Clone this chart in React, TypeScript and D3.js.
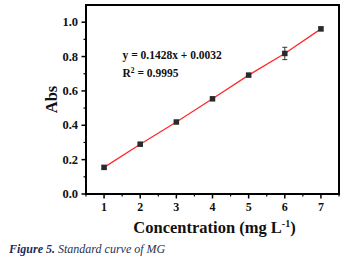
import React from "react";
import * as d3 from "d3";

const concentrations = [1, 2, 3, 4, 5, 6, 7];
const absorbance = [0.155, 0.29, 0.419, 0.554, 0.692, 0.818, 0.961];
const errors = [0.008, 0.006, 0.006, 0.008, 0.005, 0.036, 0.01];
const xTicks = [1, 2, 3, 4, 5, 6, 7];
const yTicks = [0, 0.2, 0.4, 0.6, 0.8, 1.0];
const xMinor = [0.5, 1.5, 2.5, 3.5, 4.5, 5.5, 6.5, 7.5];
const yMinor = [0.1, 0.3, 0.5, 0.7, 0.9];
const equationText = "y = 0.1428x + 0.0032";
const r2Value = "0.9995";

const W = 349;
const H = 261;
const left = 86;
const right = 339;
const top = 5;
const bottom = 194;
const font = "'Liberation Serif', 'Times New Roman', serif";

export default function App() {
  const x = d3.scaleLinear().domain([0.5, 7.5]).range([left, right]);
  const y = d3.scaleLinear().domain([0, 1.1]).range([bottom, top]);
  const line = d3
    .line<number>()
    .x((_, i) => x(concentrations[i]))
    .y((d) => y(d));
  const ms = 5.5;
  return (
    <svg
      width={W}
      height={H}
      style={{ position: "fixed", left: 0, top: 0, background: "#fff" }}
      fontFamily={font}
    >
      <rect x={0} y={0} width={W} height={H} fill="#fff" />
      {/* ticks */}
      {xTicks.map((t) => (
        <g key={"xt" + t}>
          <line x1={x(t)} x2={x(t)} y1={bottom} y2={bottom + 4.5} stroke="#000" strokeWidth={1.5} />
          <text x={x(t)} y={211} textAnchor="middle" fontSize={12} fontWeight="bold" fill="#111">
            {t}
          </text>
        </g>
      ))}
      {xMinor.map((t) => (
        <line key={"xm" + t} x1={x(t)} x2={x(t)} y1={bottom} y2={bottom + 2.5} stroke="#000" strokeWidth={1.2} />
      ))}
      {yTicks.map((t) => (
        <g key={"yt" + t}>
          <line x1={left} x2={left - 4.5} y1={y(t)} y2={y(t)} stroke="#000" strokeWidth={1.5} />
          <text x={78} y={y(t) + 4.2} textAnchor="end" fontSize={12.5} fontWeight="bold" fill="#111">
            {t.toFixed(1)}
          </text>
        </g>
      ))}
      {yMinor.map((t) => (
        <line key={"ym" + t} x1={left} x2={left - 2.5} y1={y(t)} y2={y(t)} stroke="#000" strokeWidth={1.2} />
      ))}
      {/* line */}
      <path d={line(absorbance) || ""} fill="none" stroke="#ff2a2a" strokeWidth={1.3} />
      {/* error bars */}
      {absorbance.map((v, i) => {
        const cx = x(concentrations[i]);
        const y1 = y(v - errors[i]);
        const y2 = y(v + errors[i]);
        return (
          <g key={"e" + i} stroke="#333" strokeWidth={1}>
            <line x1={cx} x2={cx} y1={y1} y2={y2} />
            <line x1={cx - 2.5} x2={cx + 2.5} y1={y1} y2={y1} />
            <line x1={cx - 2.5} x2={cx + 2.5} y1={y2} y2={y2} />
          </g>
        );
      })}
      {absorbance.map((v, i) => (
        <rect
          key={"m" + i}
          x={x(concentrations[i]) - ms / 2}
          y={y(v) - ms / 2}
          width={ms}
          height={ms}
          fill="#2a2a2a"
        />
      ))}
      {/* frame */}
      <rect x={left} y={top} width={right - left} height={bottom - top} fill="none" stroke="#000" strokeWidth={2} />
      {/* equation */}
      <text x={122.5} y={59} fontSize={11.5} fontWeight="bold" fill="#111">
        {equationText}
      </text>
      <text x={122.5} y={77} fontSize={11.5} fontWeight="bold" fill="#111">
        R<tspan dy={-4.5} fontSize={7.5}>2</tspan>
        <tspan dy={4.5}>{" = " + r2Value}</tspan>
      </text>
      {/* axis labels */}
      <text
        transform={`translate(57,${(top + bottom) / 2}) rotate(-90)`}
        textAnchor="middle"
        fontSize={16.5}
        fontWeight="bold"
        fill="#111"
      >
        Abs
      </text>
      <text x={(left + right) / 2 + 2} y={233} textAnchor="middle" fontSize={16.5} fontWeight="bold" fill="#111">
        Concentration (mg L<tspan dy={-6.5} fontSize={10}>-1</tspan>
        <tspan dy={6.5}>)</tspan>
      </text>
      {/* caption */}
      <text x={9} y={252.5} fontSize={12} fontStyle="italic" fill="#1e2b5c">
        <tspan fontWeight="bold">Figure 5.</tspan>
        <tspan fill="#2a3050"> Standard curve of MG</tspan>
      </text>
    </svg>
  );
}
